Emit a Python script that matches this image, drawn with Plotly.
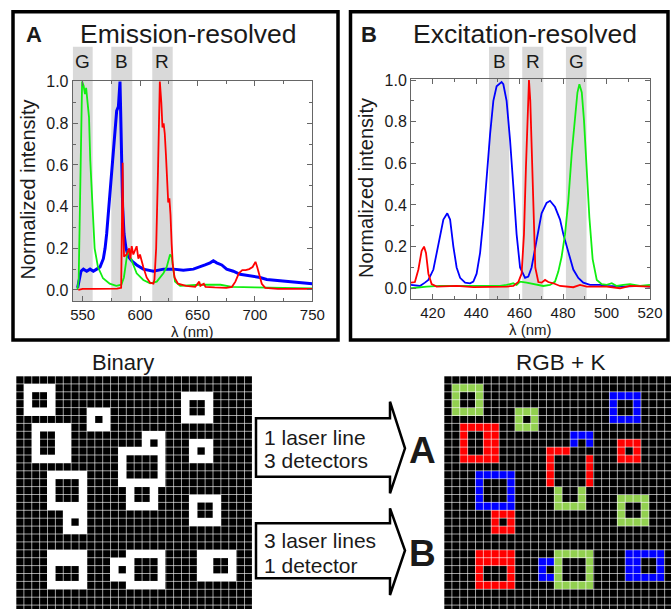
import plotly.graph_objects as go

W, H = 671, 609
def px(x): return x / W
def py(y): return 1 - y / H

FONT = "Liberation Sans, Arial, sans-serif"
TXT = "#1a1a1a"
AXC = "#666666"

# ---------------- Panel A : emission-resolved spectra (nm, normalized) ----------------
em_blue = [(545.6, 0.01), (547.1, 0.06), (548.5, 0.09), (550.6, 0.10), (553.5, 0.09), (556.4, 0.10),
           (559.3, 0.09), (562.2, 0.10), (565.1, 0.11), (568.0, 0.15), (569.5, 0.20), (570.9, 0.27),
           (572.4, 0.37), (573.8, 0.48), (575.3, 0.60), (576.7, 0.70), (578.2, 0.80), (579.6, 0.86),
           (581.1, 0.88), (581.9, 0.93), (582.5, 1.00), (583.1, 0.85), (584.0, 0.60), (584.8, 0.40),
           (586.0, 0.27), (587.7, 0.20), (589.8, 0.16), (592.7, 0.14), (597.0, 0.12), (602.8, 0.10),
           (611.6, 0.09), (620.3, 0.10), (629.0, 0.10), (637.7, 0.095), (646.4, 0.10), (652.2, 0.11),
           (656.6, 0.12), (661.0, 0.13), (663.8, 0.14), (666.7, 0.13), (671.1, 0.12), (675.4, 0.10),
           (681.2, 0.09), (687.0, 0.075), (692.9, 0.07), (698.7, 0.065), (704.5, 0.06), (710.3, 0.05),
           (719.0, 0.045), (727.7, 0.04), (739.3, 0.035), (750.0, 0.03)]
em_green = [(545.4, 0.0), (546.5, 0.05), (547.3, 0.30), (548.0, 0.60), (548.8, 0.90), (549.5, 1.00),
            (550.8, 0.98), (552.0, 0.94), (553.0, 0.97), (554.0, 0.92), (555.5, 0.83), (556.6, 0.62),
            (558.4, 0.40), (560.4, 0.20), (563.3, 0.11), (567.7, 0.056), (573.5, 0.03), (579.3, 0.02),
            (583.7, 0.025), (585.9, 0.06), (587.7, 0.13), (589.2, 0.19), (590.6, 0.17), (592.7, 0.14),
            (597.0, 0.08), (602.8, 0.048), (608.7, 0.032), (614.5, 0.04), (620.3, 0.08), (623.2, 0.11),
            (626.1, 0.17), (627.5, 0.16), (629.0, 0.10), (630.4, 0.04), (634.9, 0.02), (652.0, 0.025),
            (670.0, 0.025), (680.0, 0.015), (700.0, 0.012), (750.0, 0.008)]
em_red = [(546.2, 0.0), (550, 0.005), (560, 0.005), (570, 0.005), (580, 0.006), (583.5, 0.01),
          (584.3, 0.30), (584.8, 0.61), (585.3, 0.35), (586.0, 0.16), (588.3, 0.17), (590.5, 0.20),
          (591.5, 0.15), (592.7, 0.21), (594.1, 0.17), (596.0, 0.20), (597.0, 0.21), (598.5, 0.15),
          (599.9, 0.17), (602.8, 0.11), (605.7, 0.06), (608.7, 0.035), (611.6, 0.03), (612.5, 0.05),
          (614.0, 0.20), (615.5, 0.55), (616.5, 0.90), (617.2, 1.00), (618.5, 0.90), (619.5, 0.78),
          (620.5, 0.80), (621.5, 0.75), (622.5, 0.65), (623.5, 0.55), (624.5, 0.42), (625.5, 0.44),
          (626.5, 0.36), (627.5, 0.22), (628.5, 0.12), (630.0, 0.06), (633.0, 0.03), (640.0, 0.02),
          (648.0, 0.015), (651.5, 0.04), (652.5, 0.02), (655.5, 0.03), (657.0, 0.015), (665.0, 0.012),
          (675.0, 0.01), (680.0, 0.015), (683.0, 0.04), (686.0, 0.08), (689.0, 0.095), (692.0, 0.095),
          (695.0, 0.10), (698.0, 0.11), (700.5, 0.135), (702.0, 0.11), (704.0, 0.07), (706.0, 0.03),
          (709.0, 0.01), (720.0, 0.005), (750.0, 0.005)]
em_bands = [("G", 541.3, 558.7), ("B", 574.9, 593.2), ("R", 610.6, 628.4)]

# ---------------- Panel B : excitation-resolved spectra ----------------
ex_blue = [(410.0, 0.016), (414.1, 0.011), (416.4, 0.027), (418.0, 0.04), (420.3, 0.09), (421.8, 0.17),
           (423.3, 0.26), (424.9, 0.33), (426.7, 0.36), (428.0, 0.33), (429.5, 0.20), (431.0, 0.10),
           (432.6, 0.05), (434.9, 0.027), (437.2, 0.024), (438.7, 0.032), (440.2, 0.07), (441.8, 0.17),
           (443.3, 0.33), (444.8, 0.54), (446.4, 0.74), (447.9, 0.90), (449.4, 0.97), (451.7, 0.99),
           (452.5, 0.98), (454.0, 0.90), (455.6, 0.71), (457.1, 0.49), (458.6, 0.26), (460.2, 0.10),
           (462.5, 0.05), (464.0, 0.056), (465.5, 0.10), (467.8, 0.23), (470.1, 0.36), (472.4, 0.41),
           (474.0, 0.42), (476.3, 0.39), (478.6, 0.33), (480.1, 0.26), (481.6, 0.20), (483.2, 0.14),
           (484.7, 0.09), (487.0, 0.05), (489.3, 0.027), (492.4, 0.016), (497.0, 0.016), (500.1, 0.011),
           (507.7, 0.008), (515.4, 0.011), (520.0, 0.008)]
ex_red = [(410.0, 0.027), (411.8, 0.03), (413.4, 0.09), (414.9, 0.18), (416.0, 0.20), (416.9, 0.17),
          (418.0, 0.07), (419.5, 0.02), (421.8, 0.008), (431.0, 0.011), (438.7, 0.005), (446.4, 0.005),
          (454.0, 0.008), (457.1, 0.011), (459.4, 0.03), (460.9, 0.07), (462.0, 0.26), (462.9, 0.58),
          (463.7, 0.87), (464.3, 1.00), (464.9, 0.90), (465.5, 0.66), (466.3, 0.34), (467.2, 0.10),
          (468.6, 0.03), (470.1, 0.027), (471.7, 0.04), (473.2, 0.03), (475.5, 0.024), (478.6, 0.011),
          (484.7, 0.005), (487.8, 0.016), (490.9, 0.008), (500.1, 0.008), (506.2, 0.0), (510.8, 0.011),
          (520.0, 0.008)]
ex_green = [(410.0, 0.0), (417.2, 0.008), (423.3, 0.011), (438.7, 0.011), (451.0, 0.011), (454.0, 0.016),
            (457.1, 0.024), (458.6, 0.016), (460.2, 0.032), (463.2, 0.027), (464.8, 0.024), (467.8, 0.016),
            (470.9, 0.011), (474.0, 0.016), (476.3, 0.032), (477.8, 0.08), (479.3, 0.15), (480.9, 0.26),
            (482.4, 0.42), (484.0, 0.65), (485.5, 0.84), (486.6, 0.94), (487.5, 0.98), (488.6, 0.94),
            (489.6, 0.81), (490.9, 0.58), (492.1, 0.34), (493.6, 0.14), (495.5, 0.04), (497.8, 0.02),
            (500.1, 0.016), (502.4, 0.024), (504.7, 0.011), (507.7, 0.016), (510.8, 0.02), (515.4, 0.011),
            (520.0, 0.016)]
ex_bands = [("B", 445.9, 455.2), ("R", 461.2, 470.9), ("G", 481.3, 490.8)]

y_ticks = [0.0, 0.2, 0.4, 0.6, 0.8, 1.0]

# ---------------- Pixel images (rows top->bottom) ----------------
binary_rows = [
    "..............................",
    ".####.........................",
    ".#..#................####.....",
    ".#..#................#..#.....",
    ".####....###.........#..#.....",
    ".........#.#.........####.....",
    "..#####..###..................",
    "..#..##.........###...........",
    "..#..##.........#.#...###.....",
    "..#..##......######...#.#.....",
    "..#####......#....#...###.....",
    ".............#....#...........",
    "....#####....#....#...........",
    "....#...#....######...........",
    "....#...#.....#..#............",
    "....#...#.....#..#....####....",
    "....#####.....####....#..#....",
    "......###.............#..#....",
    "......#.#.............####....",
    "......###.....................",
    "..............................",
    "..............................",
    "....#####.....#####....#####..",
    "....#####...###...#....##..#..",
    "....#...#...#.#...#....##..#..",
    "....#...#...###...#....#####..",
    "....#####.....#####...........",
    "..............................",
    "..............................",
    "..............................",
]
rgb_rows = [
    "..............................",
    ".GGGG.........................",
    ".G..G................BBBB.....",
    ".G..G................B..B.....",
    ".GGGG....GGG.........B..B.....",
    ".........G.G.........BBBB.....",
    "..RRRRR..GGG..................",
    "..R..RR.........BBB...........",
    "..R..RR.........B.B...RRR.....",
    "..R..RR......RRR......R.R.....",
    "..RRRRR......R....R...RRR.....",
    ".............R....R...........",
    "....BBBBB....R....R...........",
    "....B...B....R....R...........",
    "....B...B.....G..G............",
    "....B...B.....G..G....GGGG....",
    "....BBBBB.....GGGG....G..G....",
    "......RRR.............G..G....",
    "......R.R.............GGGG....",
    "......RRR.....................",
    "..............................",
    "..............................",
    "....RRRRR.....GGGGG....BBBBB..",
    "....RRRRR...BBG...G....BB..B..",
    "....R...R...B.G...G....BB..B..",
    "....R...R...BBG...G....BBBBB..",
    "....RRRRR.....GGGGG...........",
    "..............................",
    "..............................",
    "..............................",
]
pixel_codes = {".": 0, "#": 1, "R": 2, "G": 3, "B": 4}
pixel_scale = [[0.0, "#000000"], [0.125, "#000000"], [0.125, "#ffffff"], [0.375, "#ffffff"],
               [0.375, "#ff0000"], [0.625, "#ff0000"], [0.625, "#92d050"], [0.875, "#92d050"],
               [0.875, "#0000ff"], [1.0, "#0000ff"]]

fig = go.Figure()

def add_spec(data, color, width, xa, ya):
    fig.add_trace(go.Scatter(x=[p[0] for p in data], y=[p[1] for p in data], mode="lines",
                             line=dict(color=color, width=width), xaxis=xa, yaxis=ya,
                             showlegend=False, hoverinfo="skip"))

add_spec(em_blue, "#0000ff", 3, "x", "y")
add_spec(em_green, "#11ee11", 1.8, "x", "y")
add_spec(em_red, "#ff0000", 1.8, "x", "y")
add_spec(ex_blue, "#0000ff", 1.8, "x2", "y2")
add_spec(ex_green, "#11ee11", 1.8, "x2", "y2")
add_spec(ex_red, "#ff0000", 1.8, "x2", "y2")

for rows, xa, ya in [(binary_rows, "x3", "y3"), (rgb_rows, "x4", "y4")]:
    z = [[pixel_codes[c] for c in r] for r in rows]
    fig.add_trace(go.Heatmap(z=z, colorscale=pixel_scale, zmin=0, zmax=4, showscale=False,
                             xaxis=xa, yaxis=ya, hoverinfo="skip"))

ax_common = dict(showline=True, linecolor=AXC, linewidth=1, mirror="ticks", ticks="inside",
                 ticklen=5, tickcolor=AXC, tickwidth=1, showgrid=False, zeroline=False)
yfont = dict(family=FONT, size=16, color=TXT)
xfont = dict(family=FONT, size=15, color=TXT)
minor = lambda d: dict(dtick=d, ticks="inside", ticklen=3, tickcolor=AXC, showgrid=False)

shapes = []
annotations = []

# band shading
for bands, xa, ybot in [(em_bands, "x", 301), (ex_bands, "x2", 299.3)]:
    for lab, a, b in bands:
        shapes.append(dict(type="rect", xref=xa, yref="paper", x0=a, x1=b, y0=py(ybot), y1=py(46.7),
                           fillcolor="#d9d9d9", line=dict(width=0), layer="below"))
        annotations.append(dict(text=lab, xref=xa, yref="paper", x=(a + b) / 2, y=py(62),
                                showarrow=False, font=dict(family=FONT, size=19, color=TXT),
                                xanchor="center", yanchor="middle"))

# grid lines over pixel images
for xa, ya in [("x3", "y3"), ("x4", "y4")]:
    for i in range(31):
        g = i - 0.5
        shapes.append(dict(type="line", xref=xa, yref=ya, x0=g, x1=g, y0=-0.5, y1=29.5,
                           line=dict(color="rgba(255,255,255,0.62)", width=1), layer="above"))
        shapes.append(dict(type="line", xref=xa, yref=ya, x0=-0.5, x1=29.5, y0=g, y1=g,
                           line=dict(color="rgba(255,255,255,0.62)", width=1), layer="above"))

# panel frames
for x0, x1 in [(13, 338), (350.5, 668)]:
    shapes.append(dict(type="rect", xref="paper", yref="paper", x0=px(x0), x1=px(x1),
                       y0=py(340), y1=py(11.7), line=dict(color="#000", width=3.5)))

# block arrows
def arrow_path(yt, yb, ht, hb, tipy):
    pts = [(256, yt), (390, yt), (390, ht), (405, tipy), (390, hb), (390, yb), (256, yb)]
    return "M " + " L ".join(f"{px(a):.5f},{py(b):.5f}" for a, b in pts) + " Z"

shapes.append(dict(type="path", xref="paper", yref="paper", path=arrow_path(418.3, 476.7, 401.7, 493.3, 448.3),
                   fillcolor="#fff", line=dict(color="#000", width=2.5)))
shapes.append(dict(type="path", xref="paper", yref="paper", path=arrow_path(523.3, 578.3, 508.3, 595.0, 550.5),
                   fillcolor="#fff", line=dict(color="#000", width=2.5)))

def txt(s, x, y, size, bold=False, angle=0, xanchor="center"):
    annotations.append(dict(text=f"<b>{s}</b>" if bold else s, xref="paper", yref="paper",
                            x=px(x), y=py(y), showarrow=False, textangle=angle,
                            font=dict(family=FONT, size=size, color=TXT),
                            xanchor=xanchor, yanchor="middle"))

txt("A", 33.5, 34, 22, bold=True)
txt("Emission-resolved", 188.5, 34, 26.5)
txt("B", 369, 34, 22, bold=True)
txt("Excitation-resolved", 525, 34, 26.5)
txt("Normalized intensity", 27.5, 190, 20, angle=-90)
txt("Normalized intensity", 366, 188, 20, angle=-90)
txt("λ (nm)", 192.5, 331.5, 15)
txt("λ (nm)", 530.5, 329.5, 15)
txt("Binary", 122.5, 362, 22)
txt("RGB + K", 560, 362, 22.5)
txt("1 laser line", 262, 437.5, 21, xanchor="left")
txt("3 detectors", 262, 460.5, 21, xanchor="left")
txt("3 laser lines", 262, 540.5, 21, xanchor="left")
txt("1 detector", 262, 565, 21, xanchor="left")
txt("A", 422, 450, 37, bold=True)
txt("B", 422, 553, 37, bold=True)

fig.update_layout(
    width=W, height=H, margin=dict(l=0, r=0, t=0, b=0), template="none",
    paper_bgcolor="#ffffff", plot_bgcolor="#ffffff", showlegend=False,
    xaxis=dict(domain=[px(72.7), px(312.3)], range=[541.3, 750], tick0=550, dtick=50,
               minor=minor(25), anchor="y", tickfont=xfont, **ax_common),
    yaxis=dict(domain=[py(301), py(81)], range=[-0.053, 1.003], tickvals=y_ticks, tickformat=".1f",
               minor=minor(0.1), anchor="x", tickfont=yfont, **ax_common),
    xaxis2=dict(domain=[px(411), px(650)], range=[410, 520], tick0=420, dtick=20,
                minor=minor(10), anchor="y2", tickfont=xfont, **ax_common),
    yaxis2=dict(domain=[py(299.3), py(79)], range=[-0.053, 1.005], tickvals=y_ticks, tickformat=".1f",
                minor=minor(0.1), anchor="x2", tickfont=yfont, **ax_common),
    xaxis3=dict(domain=[px(16), px(16 + 30 * 7.88)], range=[-0.5, 29.5], visible=False, anchor="y3"),
    yaxis3=dict(domain=[0, py(376)], range=[-0.5 + 233 / 7.9, -0.5], visible=False, anchor="x3"),
    xaxis4=dict(domain=[px(444), 1], range=[-0.5, -0.5 + 227 / 7.88], visible=False, anchor="y4"),
    yaxis4=dict(domain=[0, py(376)], range=[-0.5 + 233 / 7.9, -0.5], visible=False, anchor="x4"),
    shapes=shapes, annotations=annotations,
)

fig.write_html("out.html", config={"displayModeBar": False},
               post_script="document.body.style.margin='0';")
